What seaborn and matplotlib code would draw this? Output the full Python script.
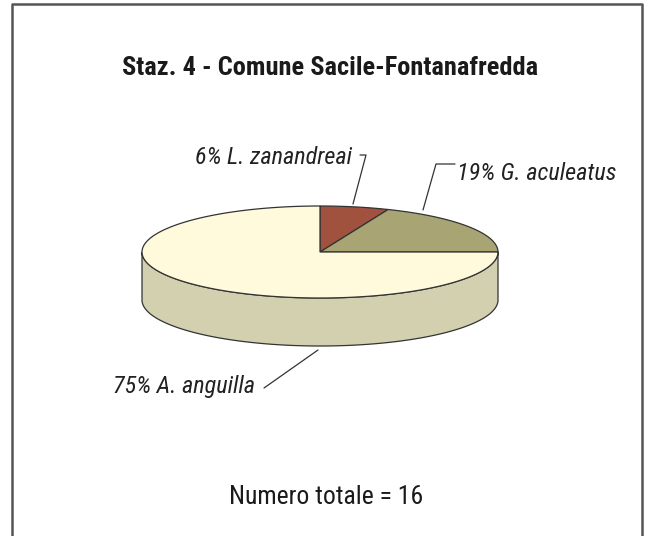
import numpy as np
import matplotlib
matplotlib.use('Agg')
import matplotlib.pyplot as plt
import seaborn as sns
from matplotlib.patches import Polygon

# data: fish counts, station 4
species = ['L. zanandreai', 'G. aculeatus', 'A. anguilla']
counts = [1, 3, 12]
top_colors = ['#A0523F', '#A8A474', '#FFFADC']
side_colors = ['#7E3F30', '#8A8660', '#D3D0B0']
title = 'Staz. 4 - Comune Sacile-Fontanafredda'
footer = 'Numero totale = 16'

sns.set_style('white')
plt.rcParams['font.family'] = ['Roboto Condensed', 'Archivo Narrow', 'DejaVu Sans']

W, H = 647, 536
fig = plt.figure(figsize=(W / 100, H / 100), dpi=100)
ax = fig.add_axes([0, 0, 1, 1])
ax.set_xlim(0, W)
ax.set_ylim(H, 0)
ax.axis('off')

# frame (no bottom edge visible)
ax.plot([12, 12, 642, 642], [H + 5, 4, 4, H + 5], color='#555555', lw=1.8)

# pie geometry (pixels)
cx, cy, rx, ry, depth = 320, 252, 178, 46, 48

def pt(t, dy=0):
    return cx + rx * np.cos(t), cy - ry * np.sin(t) + dy

total = float(sum(counts))
fracs = [c / total for c in counts]
starts = np.cumsum([0] + fracs[:-1])

# sides first (front half: angles pi..2pi)
for f, s, sc in zip(fracs, starts, side_colors):
    a1 = np.pi / 2 - 2 * np.pi * (s + f)
    a2 = np.pi / 2 - 2 * np.pi * s
    for off in (0, 2 * np.pi, -2 * np.pi):
        lo, hi = max(a1 + off, np.pi), min(a2 + off, 2 * np.pi)
        if hi > lo:
            t = np.linspace(lo, hi, 200)
            xs, ys = pt(t)
            xb, yb = pt(t[::-1], depth)
            poly = np.column_stack([np.r_[xs, xb], np.r_[ys, yb]])
            ax.add_patch(Polygon(poly, closed=True, fc=sc, ec='#333333', lw=0.9))

# top wedges
for f, s, tc in zip(fracs, starts, top_colors):
    a2 = np.pi / 2 - 2 * np.pi * s
    a1 = np.pi / 2 - 2 * np.pi * (s + f)
    t = np.linspace(a2, a1, 300)
    xs, ys = pt(t)
    poly = np.column_stack([np.r_[cx, xs], np.r_[cy, ys]])
    ax.add_patch(Polygon(poly, closed=True, fc=tc, ec='#333333', lw=0.9))

# labels with leader lines
labels = ['%d%% %s' % (round(f * 100), n) for f, n in zip(fracs, species)]
lab_style = dict(fontsize=17.5, style='italic', color='#222222', va='center')
ax.text(352, 158, labels[0], ha='right', **lab_style)
ax.plot([360, 366, 353], [155, 155, 204], color='#333333', lw=0.9)
ax.text(457, 174, labels[1], ha='left', **lab_style)
ax.plot([455, 436, 423], [164, 164, 210], color='#333333', lw=0.9)
ax.text(255, 387, labels[2], ha='right', **lab_style)
ax.plot([264, 318], [388, 350], color='#333333', lw=0.9)

ax.text(330, 68, title, ha='center', va='center', fontsize=19, fontweight='bold', color='#1a1a1a')
ax.text(326, 497, footer, ha='center', va='center', fontsize=18.5, color='#1a1a1a')

fig.savefig('out.png', dpi=100)
